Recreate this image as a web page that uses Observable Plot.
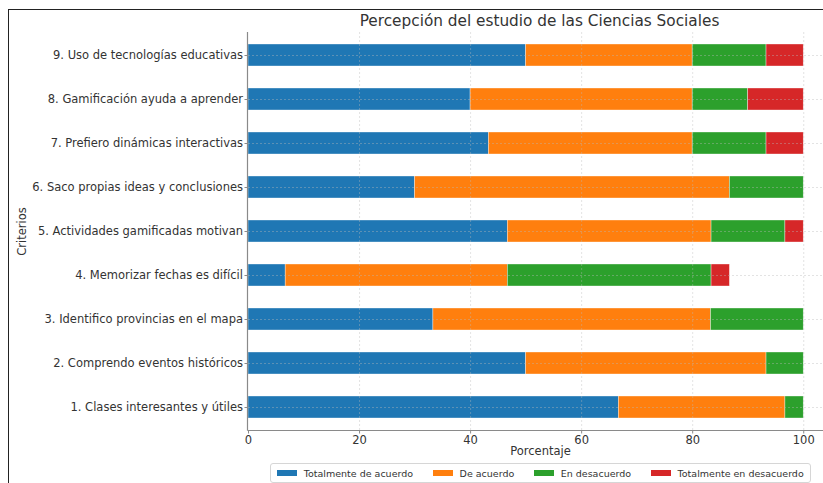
<!DOCTYPE html>
<html>
<head>
<meta charset="utf-8">
<script src="https://cdn.jsdelivr.net/npm/d3@7"></script>
<script src="https://cdn.jsdelivr.net/npm/@observablehq/plot@0.6"></script>
<style>
  body { margin: 0; background: white; }
  #wrap { position: relative; width: 823px; height: 483px; overflow: hidden; background: white; font-family: "DejaVu Sans", sans-serif; color: #333; }
  #border { position: absolute; left: 8px; top: 9px; width: 900px; height: 600px; border-left: 1.5px solid #222; border-top: 1.5px solid #222; z-index: 5; pointer-events: none; }
  #title { position: absolute; top: 12px; left: 248px; width: 583px; line-height: 18px; font-size: 15.3px; text-align: center; color: #333; }
  #chart { position: absolute; top: 32px; left: 0; }
  #legend { position: absolute; left: 270px; top: 463px; width: 539px; height: 18px; border: 1px solid #d6d6d6; border-radius: 3px; display: flex; align-items: center; justify-content: center; gap: 20px; font-size: 9.5px; color: #333; box-sizing: content-box; background: white; }
  .item { display: flex; align-items: center; gap: 7px; white-space: nowrap; }
  .sw { width: 19.5px; height: 6px; display: inline-block; }
</style>
</head>
<body>
<div id="wrap">
  <div id="border"></div>
  <div id="title">Percepción del estudio de las Ciencias Sociales</div>
  <div id="chart"></div>
  <div id="legend"></div>
</div>
<script>
const criterios = [
  "1. Clases interesantes y útiles",
  "2. Comprendo eventos históricos",
  "3. Identifico provincias en el mapa",
  "4. Memorizar fechas es difícil",
  "5. Actividades gamificadas motivan",
  "6. Saco propias ideas y conclusiones",
  "7. Prefiero dinámicas interactivas",
  "8. Gamificación ayuda a aprender",
  "9. Uso de tecnologías educativas"
];
const categorias = ["Totalmente de acuerdo", "De acuerdo", "En desacuerdo", "Totalmente en desacuerdo"];
const totalmenteDeAcuerdo   = [66.7, 50.0, 33.3,  6.7, 46.7, 30.0, 43.3, 40.0, 50.0];
const deAcuerdo             = [30.0, 43.3, 50.0, 40.0, 36.7, 56.7, 36.7, 40.0, 30.0];
const enDesacuerdo          = [ 3.3,  6.7, 16.7, 36.7, 13.3, 13.3, 13.3, 10.0, 13.3];
const totalmenteEnDesacuerdo= [ 0.0,  0.0,  0.0,  3.3,  3.3,  0.0,  6.7, 10.0,  6.7];
const colores = ["#1f77b4", "#ff7f0e", "#2ca02c", "#d62728"];
const xTicks = [0, 20, 40, 60, 80, 100];

const series = [totalmenteDeAcuerdo, deAcuerdo, enDesacuerdo, totalmenteEnDesacuerdo];
const data = [];
categorias.forEach((cat, i) => {
  criterios.forEach((crit, j) => {
    data.push({crit, cat, value: series[i][j]});
  });
});

const spines = (index, scales, values, dims) => {
  const g = d3.create("svg:g");
  const x0 = dims.marginLeft - 0.5;
  const yb = dims.height - dims.marginBottom + 0.5;
  g.append("line").attr("x1", x0).attr("x2", x0).attr("y1", dims.marginTop).attr("y2", yb)
    .attr("stroke", "#8a8a8a").attr("stroke-width", 1.2);
  g.append("line").attr("x1", x0).attr("x2", dims.width).attr("y1", yb).attr("y2", yb)
    .attr("stroke", "#8a8a8a").attr("stroke-width", 1.2);
  return g.node();
};

const chart = Plot.plot({
  width: 823,
  height: 426,
  marginLeft: 248,
  marginRight: 0,
  marginTop: 0,
  marginBottom: 28,
  style: {fontFamily: "DejaVu Sans, sans-serif", fontSize: "11.5px", color: "#333", background: "transparent", overflow: "hidden"},
  x: {domain: [0, 105], range: [248, 831]},
  y: {domain: criterios.slice().reverse(), paddingInner: 0.5, paddingOuter: 0.25},
  color: {domain: categorias, range: colores},
  marks: [
    Plot.barX(data.filter(d => d.value > 0), {x: "value", y: "crit", fill: "cat", stroke: "white", strokeWidth: 0.6, strokeOpacity: 0.6}),
    Plot.ruleX(xTicks.slice(1), {stroke: "#b8b8b8", strokeWidth: 0.8, strokeDasharray: "2,2", strokeOpacity: 0.5}),
    Plot.ruleY(criterios, {y: d => d, stroke: "#b8b8b8", strokeWidth: 0.8, strokeDasharray: "2,2", strokeOpacity: 0.5}),
    spines,
    Plot.axisX({ticks: xTicks, tickSize: 3.5, tickPadding: 2, label: null, fontSize: 11.5, stroke: "#8a8a8a"}),
    Plot.axisY({tickSize: 3.5, tickPadding: 2, label: null, fontSize: 11.5, stroke: "#8a8a8a"}),
    Plot.text(["Porcentaje"], {text: d => d, frameAnchor: "bottom", lineAnchor: "middle", dy: 21, dx: 4.5, fontSize: 11.5, fill: "#333"}),
    Plot.text(["Criterios"], {text: d => d, frameAnchor: "left", textAnchor: "middle", lineAnchor: "middle", rotate: -90, dx: -226, fontSize: 11.5, fill: "#333"})
  ]
});
document.getElementById("chart").appendChild(chart);

const legend = document.getElementById("legend");
categorias.forEach((cat, i) => {
  const item = document.createElement("div");
  item.className = "item";
  const sw = document.createElement("span");
  sw.className = "sw";
  sw.style.background = colores[i];
  const t = document.createElement("span");
  t.textContent = cat;
  item.appendChild(sw);
  item.appendChild(t);
  legend.appendChild(item);
});
</script>
</body>
</html>
